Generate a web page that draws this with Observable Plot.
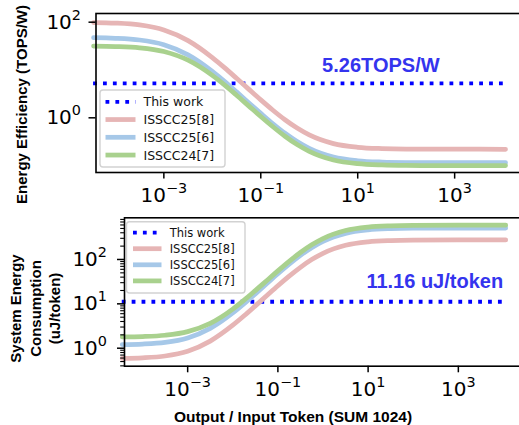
<!DOCTYPE html>
<html><head><meta charset="utf-8">
<script src="https://cdn.jsdelivr.net/npm/d3@7"></script>
<script src="https://cdn.jsdelivr.net/npm/@observablehq/plot@0.6"></script>
<style>
html,body{margin:0;padding:0;background:#fff;overflow:hidden;width:519px;height:425px}
#wrap{position:relative;width:519px;height:425px;overflow:hidden;background:#fff}
#top,#bot{position:absolute;left:0}
#top{top:0px}
#bot{top:205px}
</style></head>
<body><div id="wrap"><div id="top"></div><div id="bot"></div></div>
<script>
// ---------- data ----------
const tokenRatio = [3.55e-5, 1e-4, 3.16e-4, 1e-3, 3.16e-3, 0.01, 0.0178, 0.0316, 0.0562, 0.1, 0.178, 0.316, 0.562, 1, 3.16, 10, 31.6, 100, 1000, 11220];

const seriesNames  = ["This work", "ISSCC25[8]", "ISSCC25[6]", "ISSCC24[7]"];
const seriesColors = ["#0000ff", "#e6b5b5", "#a6c8e8", "#a9d18e"];

const effThisWork = 5.26;
const effPink  = [98.3, 95.7, 87.5, 68.8, 41.2, 18.2, 11.2, 6.71, 3.98, 2.37, 1.44, 0.91, 0.609, 0.439, 0.289, 0.242, 0.227, 0.222, 0.221, 0.22];
const effBlue  = [47.3, 46.1, 42.4, 33.9, 20.8, 9.37, 5.80, 3.49, 2.07, 1.24, 0.752, 0.475, 0.318, 0.229, 0.151, 0.1265, 0.1186, 0.1161, 0.1151, 0.115];
const effGreen = [31.7, 31.0, 29.1, 24.3, 16.0, 7.70, 4.87, 2.97, 1.78, 1.067, 0.651, 0.412, 0.276, 0.1994, 0.1315, 0.110, 0.1032, 0.1010, 0.1001, 0.100];

const conThisWork = 11.16;
const conPink  = [0.59, 0.608, 0.667, 0.855, 1.447, 3.30, 5.38, 9.01, 15.2, 25.6, 42.1, 66.6, 99.6, 138.1, 209.5, 250.6, 267.2, 272.9, 275.3, 275.6];
const conBlue  = [1.21, 1.241, 1.351, 1.70, 2.80, 6.24, 10.1, 16.8, 28.3, 47.6, 78.2, 123.7, 184.7, 256.2, 388.6, 464.8, 495.5, 506.1, 510.7, 511.2];
const conGreen = [1.79, 1.83, 1.96, 2.36, 3.63, 7.61, 12.1, 19.9, 33.2, 55.4, 90.8, 143.5, 214.1, 296.8, 450.0, 538.1, 573.7, 586.0, 591.2, 591.8];

const xTicks = [1e-3, 1e-1, 1e1, 1e3];
const effTicks = [1, 100];
const conTicks = [1, 10, 100];
const conMinorTicks = [0.4,0.5,0.6,0.7,0.8,0.9, 2,3,4,5,6,7,8,9, 20,30,40,50,60,70,80,90, 200,300,400,500,600,700,800];

const xDomain = [Math.pow(10,-4.4), Math.pow(10,4.4)];
const effDomain = [0.0718, 152];
const conDomain = [0.393, 870];

const effLabel = "Energy Efficiency (TOPS/W)";
const conLabel = "System Energy\nConsumption\n(uJ/token)";
const xLabel = "Output / Input Token (SUM 1024)";
const effAnnot = ["5.26TOPS/W"];
const conAnnot = ["11.16 uJ/token"];
const effAnnotX = [30];
const conAnnotX = [300];

// ---------- helpers ----------
const rows = vals => tokenRatio.map((x, i) => ({x, y: vals[i]}));
const supFmt = d => "10^" + Math.round(Math.log10(d));
const lineW = 4.75;
const dotW = 3.8;
const dash = "3.8,6.1";
const annotColor = "#3434ee";
const labelFont = "Liberation Sans, Arial, sans-serif";
const tickFont = "DejaVu Sans, sans-serif";
const tickFs = 20;

function seriesMarks(vals, thisWork) {
  return [
    Plot.ruleY([thisWork], {x1: tokenRatio[0], x2: tokenRatio[tokenRatio.length-1], stroke: seriesColors[0], strokeWidth: dotW, strokeDasharray: dash, strokeLinecap: "butt"}),
    Plot.line(rows(vals[0]), {x: "x", y: "y", stroke: seriesColors[1], strokeWidth: lineW, curve: "monotone-x"}),
    Plot.line(rows(vals[1]), {x: "x", y: "y", stroke: seriesColors[2], strokeWidth: lineW, curve: "monotone-x"}),
    Plot.line(rows(vals[2]), {x: "x", y: "y", stroke: seriesColors[3], strokeWidth: lineW, curve: "monotone-x"})
  ];
}

function fixSuperscripts(svg) {
  d3.select(svg).selectAll("text").each(function() {
    const t = d3.select(this);
    const s = t.text();
    const m = /^10\^(-?\d+)$/.exec(s);
    if (!m) return;
    t.text("10");
    t.append("tspan").attr("font-size", "72%").attr("dy", "-0.62em").text(m[1].replace("-", "\u2212"));
  });
}

// right-align the y tick labels (left of the frame) at a given pixel column
function alignYTickLabels(svg, frameLeft, targetRight) {
  const box = svg.getBoundingClientRect();
  d3.select(svg).selectAll("text").each(function() {
    if (!/^10/.test(this.textContent)) return;
    const r = this.getBoundingClientRect();
    if (r.right - box.left > frameLeft) return; // not a y tick label
    const shift = targetRight - (r.right - box.left);
    const tr = this.getAttribute("transform") || "";
    this.setAttribute("transform", `translate(${shift},0) ` + tr);
  });
}

function addLegend(svg, box, rowY0, rowStep, sx0, sx1, tx, fontSize) {
  const g = d3.select(svg).append("g").attr("text-anchor", "start");
  g.append("rect").attr("x", box[0]).attr("y", box[1]).attr("width", box[2]).attr("height", box[3])
    .attr("rx", 3).attr("fill", "white").attr("fill-opacity", 0.8).attr("stroke", "#d2d2d2").attr("stroke-width", 1.4);
  seriesNames.forEach((name, i) => {
    const y = rowY0 + i * rowStep;
    const l = g.append("line").attr("x1", sx0).attr("x2", sx1).attr("y1", y).attr("y2", y)
      .attr("stroke", seriesColors[i]).attr("stroke-width", i === 0 ? dotW : lineW);
    if (i === 0) l.attr("stroke-dasharray", dash);
    g.append("text").attr("x", tx).attr("y", y).attr("dy", "0.36em").attr("text-anchor", "start")
      .attr("font-family", tickFont).attr("font-size", fontSize).attr("fill", "#111").text(name);
  });
}

const baseStyle = {maxWidth: "none", background: "transparent", overflow: "visible", fontFamily: tickFont};

// ---------- top panel ----------
const topPlot = Plot.plot({
  width: 522, height: 205,
  marginTop: 13, marginBottom: 33, marginLeft: 95.5, marginRight: 0,
  style: baseStyle,
  x: {type: "log", domain: xDomain},
  y: {type: "log", domain: effDomain},
  marks: [
    ...seriesMarks([effPink, effBlue, effGreen], effThisWork),
    Plot.text(effAnnot, {x: effAnnotX, y: [effThisWork], text: d => d, dy: -17.5, fontSize: 20, fontWeight: "bold", fontFamily: labelFont, fill: annotColor}),
    Plot.text([effLabel], {frameAnchor: "left", textAnchor: "middle", lineAnchor: "middle", dx: -73.5, dy: 11.5, rotate: -90, fontSize: 15, fontWeight: "bold", fontFamily: labelFont, fill: "black"}),
    Plot.axisX({ticks: xTicks, tickFormat: supFmt, tickSize: 6.6, tickPadding: 8.5, fontSize: tickFs, label: null, strokeWidth: 1.5}),
    Plot.axisY({ticks: effTicks, tickFormat: supFmt, tickSize: 7, tickPadding: 8.5, fontSize: tickFs, label: null, strokeWidth: 1.5}),
    Plot.frame({stroke: "black", strokeWidth: 1.6})
  ]
});
fixSuperscripts(topPlot);
addLegend(topPlot, [100, 90, 125, 77], 101.8, 17.75, 105.5, 135.5, 143.5, 12.5);
document.getElementById("top").appendChild(topPlot);
alignYTickLabels(topPlot, 95.5, 81);

// ---------- bottom panel ----------
const botPlot = Plot.plot({
  width: 521, height: 220,
  marginTop: 12.3, marginBottom: 59.3, marginLeft: 124, marginRight: 0,
  style: baseStyle,
  x: {type: "log", domain: xDomain},
  y: {type: "log", domain: conDomain},
  marks: [
    ...seriesMarks([conPink, conBlue, conGreen], conThisWork),
    Plot.text(conAnnot, {x: conAnnotX, y: [conThisWork], text: d => d, dy: -20, fontSize: 20, fontWeight: "bold", fontFamily: labelFont, fill: annotColor}),
    Plot.text([conLabel], {frameAnchor: "left", textAnchor: "middle", lineAnchor: "middle", dx: -90, dy: 16.5, rotate: -90, fontSize: 15, lineHeight: 1.3, fontWeight: "bold", fontFamily: labelFont, fill: "black"}),
    Plot.text([xLabel], {frameAnchor: "bottom", textAnchor: "middle", lineAnchor: "middle", dx: -30, dy: 50.5, fontSize: 15.5, fontWeight: "bold", fontFamily: labelFont, fill: "black"}),
    Plot.axisX({ticks: xTicks, tickFormat: supFmt, tickSize: 6.6, tickPadding: 8.5, fontSize: tickFs, label: null, strokeWidth: 1.5}),
    Plot.axisY({ticks: conMinorTicks, tickFormat: () => "", tickSize: 3.8, tickPadding: 0, label: null, strokeWidth: 1.1}),
    Plot.axisY({ticks: conTicks, tickFormat: supFmt, tickSize: 7, tickPadding: 10, fontSize: tickFs, label: null, strokeWidth: 1.5}),
    Plot.frame({stroke: "black", strokeWidth: 1.6})
  ]
});
fixSuperscripts(botPlot);
addLegend(botPlot, [126.5, 16.7, 118.5, 71.3], 27.6, 16.1, 133, 161.5, 169.7, 11.5);
document.getElementById("bot").appendChild(botPlot);
alignYTickLabels(botPlot, 124, 107);
</script>
</body></html>
